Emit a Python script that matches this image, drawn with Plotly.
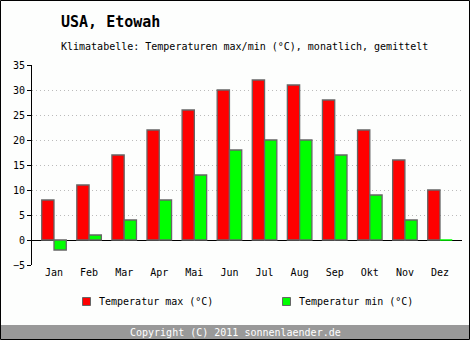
import plotly.graph_objects as go

months = ["Jan", "Feb", "Mar", "Apr", "Mai", "Jun", "Jul", "Aug", "Sep", "Okt", "Nov", "Dez"]
temp_max = [8, 11, 17, 22, 26, 30, 32, 31, 28, 22, 16, 10]
temp_min = [-2, 1, 4, 8, 13, 18, 20, 20, 17, 9, 4, 0]
y_ticks = [-5, 0, 5, 10, 15, 20, 25, 30, 35]

W, H = 470, 340
L, R, T, B = 32, 8, 65, 75
PW, PH = W - L - R, H - T - B


def px(x):
    return (x - L) / PW


def py(y):
    return (H - B - y) / PH


FONT = "DejaVu Sans Mono"
BG = "#FDFEFD"
OUTLINE = "#666666"

fig = go.Figure()
fig.add_trace(go.Bar(x=months, y=temp_max, name="Temperatur max (°C)",
                     marker=dict(color="#FF0000", line=dict(color=OUTLINE, width=1.3)),
                     showlegend=False))
fig.add_trace(go.Bar(x=months, y=temp_min, name="Temperatur min (°C)",
                     marker=dict(color="#00FF00",
                                 line=dict(color=["#00FF00" if v == 0 else OUTLINE for v in temp_min],
                                           width=1.3)),
                     showlegend=False))

shapes = [
    # footer band
    dict(type="rect", xref="paper", yref="paper", x0=px(1), x1=px(469), y0=py(325), y1=py(339),
         fillcolor="#999999", line=dict(width=0), layer="below"),
    # outer border
    dict(type="rect", xref="paper", yref="paper", x0=px(0.5), x1=px(469.5), y0=py(0.5), y1=py(339.5),
         fillcolor="rgba(0,0,0,0)", line=dict(color="black", width=1), layer="above"),
    # legend swatches
    dict(type="rect", xref="paper", yref="paper", x0=px(82.5), x1=px(90.5), y0=py(297.5), y1=py(305.5),
         fillcolor="#FF0000", line=dict(color=OUTLINE, width=1)),
    dict(type="rect", xref="paper", yref="paper", x0=px(282.5), x1=px(290.5), y0=py(297.5), y1=py(305.5),
         fillcolor="#00FF00", line=dict(color=OUTLINE, width=1)),
]

annotations = [
    dict(text="<b>USA, Etowah</b>", xref="paper", yref="paper", x=px(59), y=py(22),
         xanchor="left", yanchor="middle", showarrow=False, font=dict(family=FONT, size=15, color="black")),
    dict(text="Klimatabelle: Temperaturen max/min (°C), monatlich, gemittelt", xref="paper", yref="paper",
         x=px(59), y=py(46.5), xanchor="left", yanchor="middle", showarrow=False,
         font=dict(family=FONT, size=10, color="black")),
    dict(text="Temperatur max (°C)", xref="paper", yref="paper", x=px(96.5), y=py(301.5),
         xanchor="left", yanchor="middle", showarrow=False, font=dict(family=FONT, size=10, color="black")),
    dict(text="Temperatur min (°C)", xref="paper", yref="paper", x=px(296.5), y=py(301.5),
         xanchor="left", yanchor="middle", showarrow=False, font=dict(family=FONT, size=10, color="black")),
    dict(text="Copyright (C) 2011 sonnenlaender.de", xref="paper", yref="paper", x=px(235), y=py(332),
         xanchor="center", yanchor="middle", showarrow=False, font=dict(family=FONT, size=10, color="white")),
]

fig.update_layout(
    width=W, height=H,
    margin=dict(l=L, r=R, t=T, b=B, pad=0),
    paper_bgcolor=BG, plot_bgcolor=BG,
    barmode="group", bargap=0.30, bargroupgap=0,
    font=dict(family=FONT, size=10, color="black"),
    shapes=shapes, annotations=annotations,
    xaxis=dict(range=[-0.627, 11.627], showgrid=False, ticks="", showline=False,
               zeroline=False, tickfont=dict(family=FONT, size=10, color="black")),
    yaxis=dict(range=[-5, 35], tickvals=y_ticks, showgrid=True, gridcolor="#BBBBBB", griddash="1px,3px",
               gridwidth=1, zeroline=True, zerolinecolor="black", zerolinewidth=1,
               showline=True, linecolor="black", linewidth=1, ticks="outside", ticklen=4,
               tickcolor="black", tickfont=dict(family=FONT, size=10, color="black")),
)

fig.write_html("out.html")
